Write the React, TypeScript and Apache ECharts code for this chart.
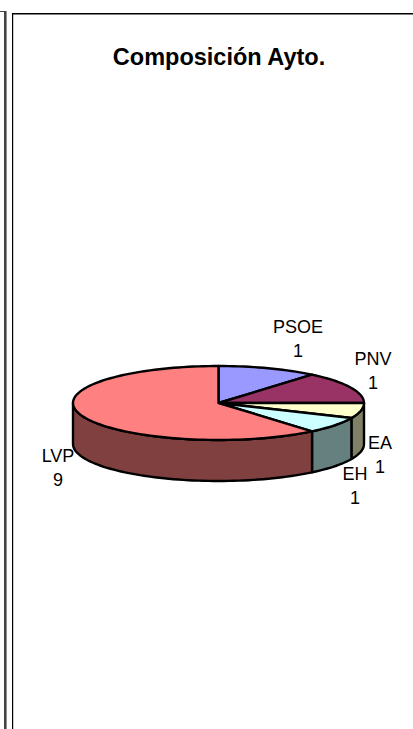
import React, { useEffect, useRef } from "react";
import * as echarts from "echarts";

const categories = ["PSOE", "PNV", "EA", "EH", "LVP"];
const seats = [1, 1, 1, 1, 9];
// Slice sweep as drawn in the picture (degrees of the projected ellipse)
const sliceDegrees = [40, 50, 24, 26, 220];
const topColors = ["#9999ff", "#993366", "#ffffcc", "#ccffff", "#ff8080"];
const sideColors = ["#4d4d80", "#4d1a33", "#808066", "#668080", "#804040"];
const labelCenters = [
  [298, 338.5],
  [373, 371],
  [380, 454.5],
  [355, 486],
  [58, 468],
];

const CX = 218.5;
const CY = 403;
const RX = 145.5;
const RY = 37;
const DEPTH = 41;
const FONT = "'Liberation Sans', Arial, sans-serif";

const pt = (deg: number, dy = 0) => {
  const r = (deg * Math.PI) / 180;
  return [CX + RX * Math.cos(r), CY - RY * Math.sin(r) + dy];
};

const arc = (from: number, to: number, dy = 0) => {
  const n = Math.max(2, Math.ceil(Math.abs(to - from) / 2));
  const out: number[][] = [];
  for (let i = 0; i <= n; i++) out.push(pt(from + ((to - from) * i) / n, dy));
  return out;
};

export default function App() {
  const ref = useRef<HTMLDivElement>(null);
  useEffect(() => {
    document.body.style.margin = "0";
    const chart = echarts.init(ref.current!, undefined, { renderer: "svg" });
    const edge = { stroke: "#000", lineWidth: 2.4, lineJoin: "round" as const };
    chart.setOption({
      animation: false,
      backgroundColor: "#ffffff",
      title: {
        text: "Composición Ayto.",
        left: 219,
        top: 45,
        textAlign: "center",
        show: false,
      },
      graphic: [
        { type: "rect", shape: { x: 4, y: 11, width: 2.6, height: 718 }, style: { fill: "#444" } },
        { type: "rect", shape: { x: 0, y: 11, width: 6, height: 1 }, style: { fill: "#444" } },
        { type: "rect", shape: { x: 12, y: 13, width: 401, height: 1.4 }, style: { fill: "#000" } },
        { type: "rect", shape: { x: 12, y: 13, width: 1.2, height: 716 }, style: { fill: "#000" } },
        {
          type: "text",
          x: 219,
          y: 57,
          style: {
            text: "Composición Ayto.",
            align: "center",
            verticalAlign: "middle",
            fontFamily: FONT,
            fontSize: 23.5,
            fontWeight: "bold",
            fill: "#000",
          },
        },
      ],
      series: [
        {
          type: "custom",
          coordinateSystem: "none",
          silent: true,
          data: sliceDegrees.map((d) => [d]),
          renderItem: (params: any, api: any) => {
            const i = params.dataIndex;
            let before = 0;
            for (let k = 0; k < i; k++) before += sliceDegrees[k];
            const start = 90 - before;
            const end = start - api.value(0);
            const children: any[] = [];
            // visible front wall: between 0 and -180 degrees
            const a = Math.min(start, 0);
            const b = Math.max(end, -180);
            if (a > b) {
              children.push({
                type: "polygon",
                shape: { points: [...arc(a, b), ...arc(b, a, DEPTH)] },
                style: { fill: sideColors[i], ...edge },
              });
            }
            children.push({
              type: "polygon",
              shape: { points: [[CX, CY], ...arc(start, end)] },
              style: { fill: topColors[i], ...edge },
            });
            children.push({
              type: "text",
              z2: 10,
              style: {
                text: `${categories[i]}\n${seats[i]}`,
                x: labelCenters[i][0],
                y: labelCenters[i][1],
                align: "center",
                verticalAlign: "middle",
                lineHeight: 24,
                fontFamily: FONT,
                fontSize: 18,
                fill: "#000",
              },
            });
            return { type: "group", children };
          },
        },
      ],
    });
    return () => chart.dispose();
  }, []);
  return <div ref={ref} style={{ width: 413, height: 729 }} />;
}
